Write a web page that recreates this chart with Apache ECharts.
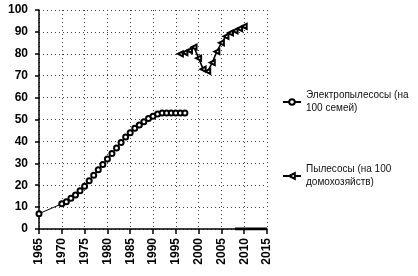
<!DOCTYPE html>
<html>
<head>
<meta charset="utf-8">
<script src="https://cdn.jsdelivr.net/npm/echarts@6/dist/echarts.min.js"></script>
<style>html,body{margin:0;padding:0;background:#fff}#c{width:418px;height:276px}</style>
</head>
<body>
<div id="c"></div>
<script>
var yearTicks = [1965, 1970, 1975, 1980, 1985, 1990, 1995, 2000, 2005, 2010, 2015];
var s1Name = "Электропылесосы (на 100 семей)";
var s1Years = [1965, 1970, 1971, 1972, 1973, 1974, 1975, 1976, 1977, 1978, 1979, 1980, 1981, 1982, 1983, 1984, 1985, 1986, 1987, 1988, 1989, 1990, 1991, 1992, 1993, 1994, 1995, 1996, 1997];
var s1Values = [7, 11.5, 12.5, 14, 15.5, 17.5, 19.5, 22, 24.5, 27, 29.5, 32, 34.5, 37, 39.5, 42, 44, 46, 47.5, 49, 50.5, 51.5, 52.5, 53, 53, 53, 53, 53, 53];
var s2Name = "Пылесосы (на 100 домохозяйств)";
var s2Years = [1996, 1997, 1998, 1999, 2000, 2001, 2002, 2003, 2004, 2005, 2006, 2007, 2008, 2009, 2010];
var s2Values = [80, 80.5, 81.5, 83, 78, 73, 72, 76, 81, 85, 88, 89.5, 90.5, 91.5, 92.5];
var s3Years = [2008, 2009, 2010, 2011, 2012, 2013, 2014, 2015];
var s3Values = [0, 0, 0, 0, 0, 0, 0, 0];
var legendLabels = {};
legendLabels[s1Name] = "Электропылесосы (на\n100 семей)";
legendLabels[s2Name] = "Пылесосы (на 100\nдомохозяйств)";

function pairs(xs, ys) { return xs.map(function (x, i) { return [x, ys[i]]; }); }

var chart = echarts.init(document.getElementById('c'), null, {renderer: 'canvas'});
var gridLine = {show: true, lineStyle: {color: '#444', type: [1, 3], width: 1}};
chart.setOption({
  animation: false,
  backgroundColor: '#fff',
  grid: {left: 39, right: 151, top: 10, bottom: 47, containLabel: false},
  xAxis: {
    type: 'value', min: 1965, max: 2015, interval: 5,
    axisLine: {show: true, lineStyle: {color: '#000', width: 1.5}},
    axisTick: {show: true, length: 5, lineStyle: {color: '#000', width: 1.5}},
    axisLabel: {rotate: 90, color: '#000', fontFamily: 'Liberation Sans', fontSize: 12, fontWeight: 'bold', margin: 9,
      formatter: function (v) { return yearTicks.indexOf(v) >= 0 ? String(v) : ''; }},
    splitLine: gridLine
  },
  yAxis: {
    type: 'value', min: 0, max: 100, interval: 10,
    axisLine: {show: true, lineStyle: {color: '#000', width: 1.5}},
    axisTick: {show: true, length: 4, lineStyle: {color: '#000', width: 1.5}},
    axisLabel: {color: '#000', fontFamily: 'Liberation Sans', fontSize: 12, fontWeight: 'bold', margin: 11},
    splitLine: gridLine
  },
  legend: {
    data: [s1Name, s2Name],
    orient: 'vertical', left: 277, top: 84, itemGap: 48,
    itemWidth: 18, itemHeight: 7,
    formatter: function (n) { return legendLabels[n]; },
    textStyle: {color: '#111', fontFamily: 'Liberation Sans', fontSize: 10, lineHeight: 13}
  },
  series: [
    {name: s1Name, type: 'line', data: pairs(s1Years, s1Values), symbol: 'emptyCircle', symbolSize: 5,
      lineStyle: {color: '#000', width: 1}, itemStyle: {color: '#000', borderColor: '#000', borderWidth: 0.8}},
    {name: s2Name, type: 'line', data: pairs(s2Years, s2Values), symbol: 'emptyTriangle', symbolSize: 5, symbolRotate: 90,
      lineStyle: {color: '#000', width: 1.6}, itemStyle: {color: '#000', borderColor: '#000', borderWidth: 0.8}},
    {name: 'zero', type: 'line', data: pairs(s3Years, s3Values), symbol: 'none',
      lineStyle: {color: '#000', width: 3}}
  ]
});
</script>
</body>
</html>
